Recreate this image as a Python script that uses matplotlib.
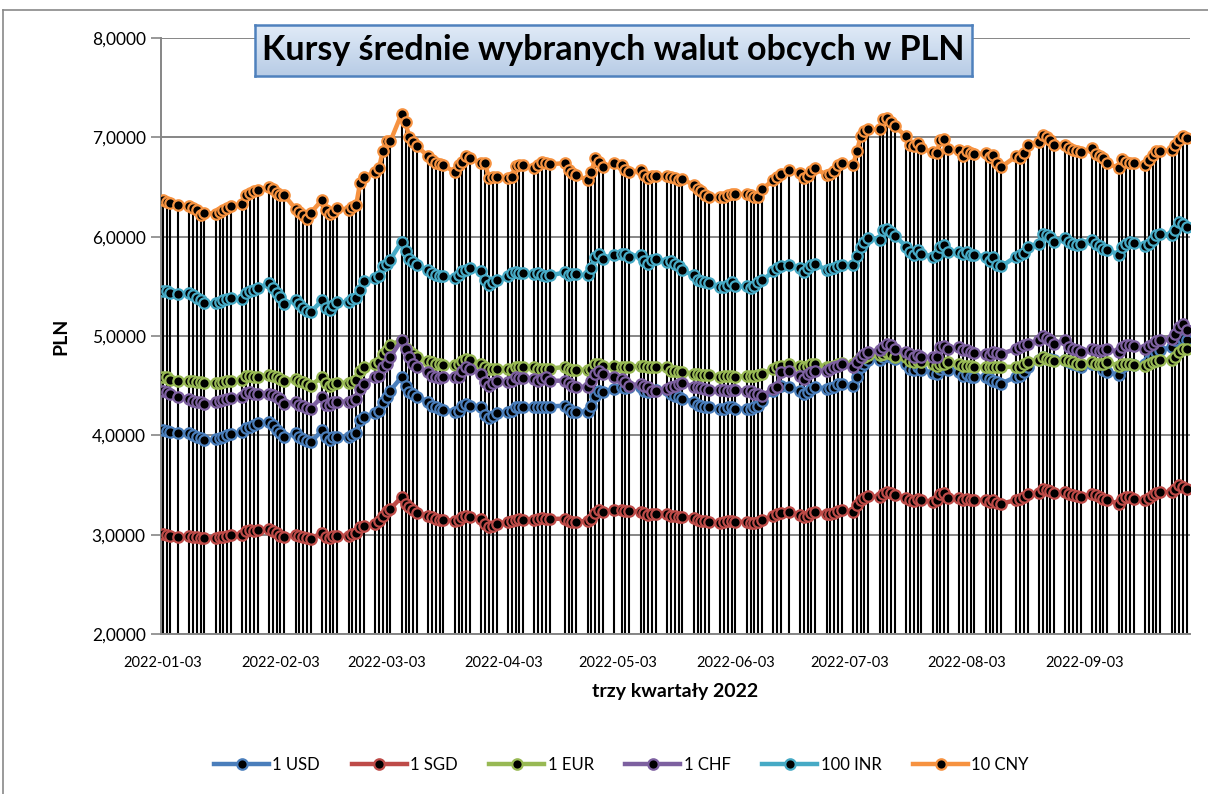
import pandas as pd
import matplotlib.pyplot as plt
import matplotlib.dates as mdates
import numpy as np
from matplotlib.lines import Line2D
from matplotlib.ticker import FuncFormatter

# NBP business days, Jan 3 - Sep 30 2022 (Polish holidays dropped)
holidays = ["2022-01-06", "2022-04-18", "2022-05-03", "2022-06-16", "2022-08-15"]
dates = pd.bdate_range("2022-01-03", "2022-09-30").drop(pd.to_datetime(holidays))

usd = [
    4.05, 4.04, 4.03, 4.02, 4.02, 4.00, 3.98, 3.97, 3.95, 3.96, 3.97, 3.98, 4.00, 4.01,
    4.03, 4.07, 4.08, 4.10, 4.12, 4.13, 4.10, 4.05, 4.02, 3.98, 4.02, 3.98, 3.96, 3.94, 3.93,
    4.05, 3.98, 3.95, 3.98, 3.98, 3.98, 4.00, 4.02, 4.15, 4.18, 4.22, 4.25, 4.34, 4.39, 4.45,
    4.59, 4.50, 4.44, 4.42, 4.39, 4.34, 4.30, 4.29, 4.27, 4.26, 4.24, 4.25, 4.30, 4.32, 4.30,
    4.29, 4.20, 4.17, 4.19, 4.22, 4.24, 4.25, 4.29, 4.29, 4.29, 4.29, 4.29, 4.29, 4.29, 4.29,
    4.30, 4.27, 4.24, 4.24, 4.24, 4.30, 4.40, 4.45, 4.44, 4.47, 4.49, 4.48, 4.49,
    4.49, 4.45, 4.44, 4.45, 4.46, 4.46, 4.42, 4.40, 4.39, 4.37, 4.34, 4.31, 4.30, 4.29, 4.29,
    4.27, 4.27, 4.29, 4.29, 4.27, 4.27, 4.27, 4.29, 4.30, 4.35, 4.45, 4.49, 4.50, 4.49,
    4.45, 4.42, 4.44, 4.47, 4.49, 4.47, 4.48, 4.49, 4.52, 4.52, 4.50, 4.59, 4.69, 4.72, 4.76,
    4.76, 4.79, 4.81, 4.79, 4.77, 4.72, 4.67, 4.66, 4.69, 4.66, 4.63, 4.62, 4.67, 4.69, 4.66,
    4.64, 4.60, 4.62, 4.59, 4.59, 4.59, 4.57, 4.55, 4.54, 4.52, 4.59, 4.60, 4.64, 4.69,
    4.76, 4.79, 4.77, 4.77, 4.76, 4.76, 4.74, 4.72, 4.71, 4.69, 4.72, 4.72, 4.71, 4.66, 4.64,
    4.61, 4.69, 4.71, 4.72, 4.71, 4.72, 4.76, 4.79, 4.84, 4.86, 4.89, 4.96, 5.01, 4.97, 4.96,
]
sgd = [
    3.01, 3.00, 2.99, 2.98, 2.99, 2.98, 2.98, 2.97, 2.97, 2.97, 2.98, 2.98, 2.99, 3.00,
    3.00, 3.04, 3.05, 3.04, 3.05, 3.06, 3.04, 3.02, 2.99, 2.98, 3.00, 2.99, 2.98, 2.97, 2.96,
    3.02, 2.98, 2.97, 2.99, 2.99, 2.99, 3.01, 3.02, 3.08, 3.09, 3.11, 3.14, 3.19, 3.24, 3.26,
    3.38, 3.31, 3.28, 3.25, 3.22, 3.19, 3.18, 3.16, 3.15, 3.15, 3.14, 3.15, 3.18, 3.19, 3.18,
    3.16, 3.11, 3.08, 3.09, 3.11, 3.13, 3.14, 3.15, 3.16, 3.15, 3.15, 3.16, 3.17, 3.16, 3.16,
    3.16, 3.14, 3.13, 3.13, 3.14, 3.16, 3.22, 3.25, 3.23, 3.25, 3.25, 3.24, 3.24,
    3.23, 3.22, 3.20, 3.21, 3.21, 3.21, 3.19, 3.19, 3.18, 3.18, 3.17, 3.15, 3.14, 3.14, 3.13,
    3.12, 3.13, 3.14, 3.14, 3.13, 3.13, 3.12, 3.12, 3.13, 3.15, 3.19, 3.21, 3.22, 3.23,
    3.20, 3.18, 3.19, 3.22, 3.23, 3.21, 3.21, 3.22, 3.24, 3.25, 3.23, 3.30, 3.35, 3.37, 3.39,
    3.38, 3.41, 3.43, 3.42, 3.40, 3.37, 3.35, 3.34, 3.36, 3.35, 3.33, 3.35, 3.41, 3.42, 3.37,
    3.37, 3.35, 3.36, 3.35, 3.35, 3.35, 3.33, 3.35, 3.32, 3.31, 3.35, 3.36, 3.38, 3.41,
    3.42, 3.46, 3.45, 3.44, 3.42, 3.43, 3.41, 3.40, 3.39, 3.38, 3.41, 3.40, 3.38, 3.36, 3.35,
    3.31, 3.36, 3.38, 3.38, 3.36, 3.35, 3.37, 3.40, 3.42, 3.43, 3.43, 3.46, 3.50, 3.48, 3.46,
]
eur = [
    4.59, 4.59, 4.56, 4.55, 4.55, 4.55, 4.54, 4.54, 4.53, 4.53, 4.53, 4.54, 4.55, 4.55,
    4.56, 4.60, 4.60, 4.59, 4.59, 4.61, 4.60, 4.59, 4.57, 4.55, 4.57, 4.55, 4.54, 4.52, 4.50,
    4.59, 4.53, 4.50, 4.52, 4.53, 4.53, 4.54, 4.56, 4.65, 4.69, 4.72, 4.74, 4.82, 4.86, 4.91,
    4.96, 4.88, 4.85, 4.82, 4.79, 4.75, 4.74, 4.72, 4.72, 4.71, 4.71, 4.72, 4.75, 4.77, 4.76,
    4.72, 4.69, 4.67, 4.67, 4.67, 4.67, 4.66, 4.69, 4.69, 4.69, 4.69, 4.67, 4.67, 4.67, 4.67,
    4.69, 4.67, 4.66, 4.66, 4.66, 4.67, 4.72, 4.72, 4.70, 4.70, 4.69, 4.69, 4.69,
    4.70, 4.70, 4.69, 4.69, 4.69, 4.69, 4.65, 4.65, 4.64, 4.64, 4.62, 4.62, 4.61, 4.61, 4.61,
    4.59, 4.60, 4.60, 4.60, 4.59, 4.60, 4.60, 4.60, 4.61, 4.62, 4.67, 4.69, 4.70, 4.72,
    4.70, 4.69, 4.70, 4.72, 4.72, 4.69, 4.69, 4.70, 4.72, 4.73, 4.72, 4.75, 4.79, 4.79, 4.81,
    4.81, 4.82, 4.84, 4.82, 4.79, 4.79, 4.75, 4.74, 4.75, 4.74, 4.72, 4.70, 4.72, 4.72, 4.74,
    4.72, 4.70, 4.70, 4.70, 4.69, 4.69, 4.69, 4.69, 4.69, 4.69, 4.69, 4.69, 4.72, 4.74,
    4.76, 4.79, 4.77, 4.76, 4.75, 4.76, 4.75, 4.74, 4.72, 4.72, 4.74, 4.72, 4.72, 4.72, 4.74,
    4.70, 4.72, 4.72, 4.72, 4.71, 4.70, 4.72, 4.74, 4.75, 4.76, 4.76, 4.79, 4.84, 4.87, 4.87,
]
chf = [
    4.45, 4.44, 4.42, 4.39, 4.37, 4.35, 4.34, 4.34, 4.32, 4.34, 4.35, 4.36, 4.37, 4.38,
    4.39, 4.43, 4.44, 4.42, 4.42, 4.42, 4.41, 4.39, 4.37, 4.32, 4.34, 4.31, 4.30, 4.28, 4.27,
    4.39, 4.31, 4.31, 4.34, 4.34, 4.34, 4.35, 4.37, 4.47, 4.52, 4.59, 4.60, 4.69, 4.72, 4.79,
    4.96, 4.87, 4.79, 4.72, 4.69, 4.64, 4.60, 4.59, 4.58, 4.59, 4.59, 4.59, 4.65, 4.69, 4.67,
    4.62, 4.54, 4.50, 4.53, 4.55, 4.54, 4.55, 4.59, 4.58, 4.58, 4.57, 4.55, 4.57, 4.59, 4.55,
    4.55, 4.53, 4.50, 4.49, 4.49, 4.55, 4.62, 4.65, 4.62, 4.59, 4.57, 4.54, 4.50,
    4.52, 4.50, 4.49, 4.45, 4.45, 4.47, 4.49, 4.50, 4.52, 4.53, 4.49, 4.49, 4.48, 4.47, 4.46,
    4.46, 4.46, 4.45, 4.46, 4.46, 4.45, 4.45, 4.42, 4.42, 4.40, 4.47, 4.49, 4.64, 4.65,
    4.60, 4.57, 4.62, 4.64, 4.65, 4.65, 4.67, 4.69, 4.70, 4.72, 4.69, 4.74, 4.79, 4.82, 4.84,
    4.86, 4.89, 4.92, 4.91, 4.87, 4.84, 4.82, 4.79, 4.81, 4.79, 4.79, 4.79, 4.89, 4.90, 4.87,
    4.89, 4.86, 4.86, 4.84, 4.83, 4.82, 4.81, 4.84, 4.83, 4.82, 4.87, 4.89, 4.91, 4.92,
    4.96, 5.00, 4.98, 4.96, 4.92, 4.96, 4.89, 4.87, 4.86, 4.84, 4.87, 4.86, 4.85, 4.86, 4.87,
    4.84, 4.89, 4.91, 4.91, 4.90, 4.87, 4.90, 4.92, 4.95, 4.96, 4.97, 5.02, 5.09, 5.12, 5.06,
]
inr100 = [
    5.45, 5.45, 5.43, 5.42, 5.43, 5.41, 5.38, 5.36, 5.33, 5.33, 5.34, 5.36, 5.37, 5.38,
    5.37, 5.43, 5.45, 5.46, 5.48, 5.53, 5.48, 5.43, 5.39, 5.32, 5.36, 5.32, 5.28, 5.25, 5.24,
    5.36, 5.28, 5.26, 5.31, 5.34, 5.34, 5.37, 5.38, 5.46, 5.55, 5.58, 5.60, 5.70, 5.73, 5.77,
    5.95, 5.86, 5.78, 5.75, 5.72, 5.66, 5.63, 5.61, 5.60, 5.60, 5.58, 5.61, 5.65, 5.66, 5.68,
    5.65, 5.56, 5.51, 5.54, 5.56, 5.60, 5.63, 5.64, 5.63, 5.63, 5.62, 5.63, 5.61, 5.60, 5.61,
    5.64, 5.61, 5.62, 5.62, 5.61, 5.68, 5.80, 5.83, 5.78, 5.82, 5.83, 5.83, 5.80,
    5.82, 5.76, 5.73, 5.77, 5.78, 5.75, 5.76, 5.73, 5.70, 5.66, 5.61, 5.56, 5.55, 5.54, 5.53,
    5.49, 5.49, 5.51, 5.54, 5.50, 5.50, 5.48, 5.50, 5.54, 5.56, 5.65, 5.68, 5.70, 5.72,
    5.68, 5.64, 5.68, 5.71, 5.73, 5.66, 5.67, 5.68, 5.70, 5.71, 5.71, 5.81, 5.90, 5.95, 5.99,
    5.97, 6.07, 6.08, 6.05, 6.01, 5.90, 5.85, 5.82, 5.87, 5.83, 5.80, 5.82, 5.90, 5.92, 5.85,
    5.85, 5.83, 5.85, 5.82, 5.82, 5.80, 5.76, 5.80, 5.71, 5.70, 5.80, 5.82, 5.84, 5.90,
    5.93, 6.03, 6.02, 6.00, 5.95, 5.99, 5.95, 5.93, 5.92, 5.93, 5.97, 5.93, 5.91, 5.88, 5.87,
    5.82, 5.90, 5.93, 5.95, 5.94, 5.91, 5.93, 5.97, 6.02, 6.03, 6.02, 6.07, 6.15, 6.13, 6.10,
]
cny10 = [
    6.37, 6.35, 6.34, 6.32, 6.31, 6.29, 6.27, 6.22, 6.24, 6.23, 6.25, 6.27, 6.29, 6.31,
    6.33, 6.42, 6.44, 6.46, 6.47, 6.50, 6.48, 6.44, 6.42, 6.42, 6.28, 6.25, 6.22, 6.18, 6.24,
    6.37, 6.27, 6.23, 6.25, 6.29, 6.27, 6.30, 6.32, 6.54, 6.60, 6.65, 6.69, 6.86, 6.96, 6.96,
    7.24, 7.15, 7.00, 6.95, 6.91, 6.81, 6.77, 6.74, 6.73, 6.72, 6.65, 6.72, 6.75, 6.81, 6.79,
    6.74, 6.74, 6.59, 6.60, 6.60, 6.59, 6.60, 6.71, 6.72, 6.72, 6.69, 6.72, 6.75, 6.74, 6.73,
    6.74, 6.67, 6.64, 6.62, 6.57, 6.65, 6.79, 6.75, 6.70, 6.74, 6.72, 6.67, 6.65,
    6.67, 6.62, 6.59, 6.61, 6.61, 6.61, 6.60, 6.59, 6.57, 6.58, 6.52, 6.48, 6.46, 6.42, 6.40,
    6.40, 6.40, 6.42, 6.43, 6.43, 6.43, 6.42, 6.40, 6.40, 6.48, 6.57, 6.60, 6.63, 6.67,
    6.64, 6.59, 6.61, 6.66, 6.69, 6.62, 6.63, 6.66, 6.72, 6.74, 6.72, 6.86, 7.01, 7.06, 7.08,
    7.08, 7.18, 7.19, 7.15, 7.11, 7.01, 6.92, 6.91, 6.94, 6.89, 6.85, 6.84, 6.97, 6.98, 6.88,
    6.87, 6.81, 6.86, 6.84, 6.83, 6.84, 6.80, 6.82, 6.74, 6.70, 6.81, 6.79, 6.84, 6.92,
    6.95, 7.02, 7.00, 6.97, 6.92, 6.92, 6.89, 6.87, 6.86, 6.85, 6.89, 6.83, 6.81, 6.79, 6.74,
    6.69, 6.78, 6.75, 6.74, 6.74, 6.72, 6.77, 6.82, 6.86, 6.86, 6.87, 6.92, 6.97, 7.01, 6.99,
]

series = [
    ("1 USD", usd, "#4A7EBB"),
    ("1 SGD", sgd, "#BE4B48"),
    ("1 EUR", eur, "#98B954"),
    ("1 CHF", chf, "#7D60A0"),
    ("100 INR", inr100, "#46AAC5"),
    ("10 CNY", cny10, "#F69240"),
]
tick_dates = pd.date_range("2022-01-01", "2022-09-03", freq="MS") + pd.Timedelta(days=2)

plt.rcParams["font.family"] = ["Lato", "DejaVu Sans"]

fig = plt.figure(figsize=(12.08, 7.94), dpi=100)
ax = fig.add_axes([0.1333, 0.2015, 0.8518, 0.7506])

# drop lines from the highest point of each day down to the axis
top = np.max(np.array([s[1] for s in series]), axis=0)
ax.vlines(dates, 2, top, color="black", lw=1.5, zorder=2)

for name, vals, col in series:
    ax.plot(dates, vals, color=col, lw=3.2, marker="o", ms=7.5,
            mfc="black", mec=col, mew=1.6, label=name, zorder=3)

ax.set_ylim(2, 8)
ax.set_yticks(np.arange(2, 8.01, 1))
ax.yaxis.set_major_formatter(FuncFormatter(lambda v, p: f"{v:.4f}".replace(".", ",")))
ax.set_xlim(dates[0] - pd.Timedelta(hours=11), dates[-1] + pd.Timedelta(hours=20))
ax.set_xticks(tick_dates)
ax.xaxis.set_major_formatter(mdates.DateFormatter("%Y-%m-%d"))
ax.tick_params(axis="x", length=0, labelsize=10.5, pad=16)
ax.tick_params(axis="y", length=7, width=1.2, color="#868686", labelsize=12.5, pad=4)
ax.grid(axis="y", color="#868686", lw=1.4)
ax.set_axisbelow(True)
for s in ["top", "right"]:
    ax.spines[s].set_visible(False)
for s in ["left", "bottom"]:
    ax.spines[s].set_color("#868686")
    ax.spines[s].set_linewidth(1.4)

ax.set_ylabel("PLN", fontsize=14, fontweight="bold", labelpad=16)
ax.set_xlabel("trzy kwartały 2022", fontsize=14, fontweight="bold", labelpad=9)

# title box with a soft blue gradient
tax = fig.add_axes([255 / 1208, 1 - 76 / 794, 717 / 1208, 51 / 794])
grad = np.linspace(0, 1, 64).reshape(-1, 1)
c_top = np.array([0.88, 0.92, 0.97])
c_bot = np.array([0.72, 0.80, 0.90])
img = c_top + grad[..., None] * (c_bot - c_top)
tax.imshow(img, aspect="auto", extent=[0, 1, 0, 1])
tax.set_xticks([])
tax.set_yticks([])
for s in tax.spines.values():
    s.set_color("#4F81BD")
    s.set_linewidth(1.8)
tax.text(0.5, 0.5, "Kursy średnie wybranych walut obcych w PLN", ha="center", va="center",
         fontsize=24.5, fontweight="bold", color="black", transform=tax.transAxes)

# chart area border: only the top and left edges fall inside the picture
y_top = 1 - 10 / 794
x_left = 3 / 1208
fig.add_artist(Line2D([x_left, 1.0], [y_top, y_top], color="#898989", lw=1.2))
fig.add_artist(Line2D([x_left, x_left], [0.0, y_top], color="#898989", lw=1.2))

fig.legend(loc="center", bbox_to_anchor=(0.5145, 1 - 765 / 794), ncol=6, frameon=False,
           fontsize=12, handlelength=3.3, columnspacing=1.9, handletextpad=0.2)

fig.savefig("out.png", dpi=100)
